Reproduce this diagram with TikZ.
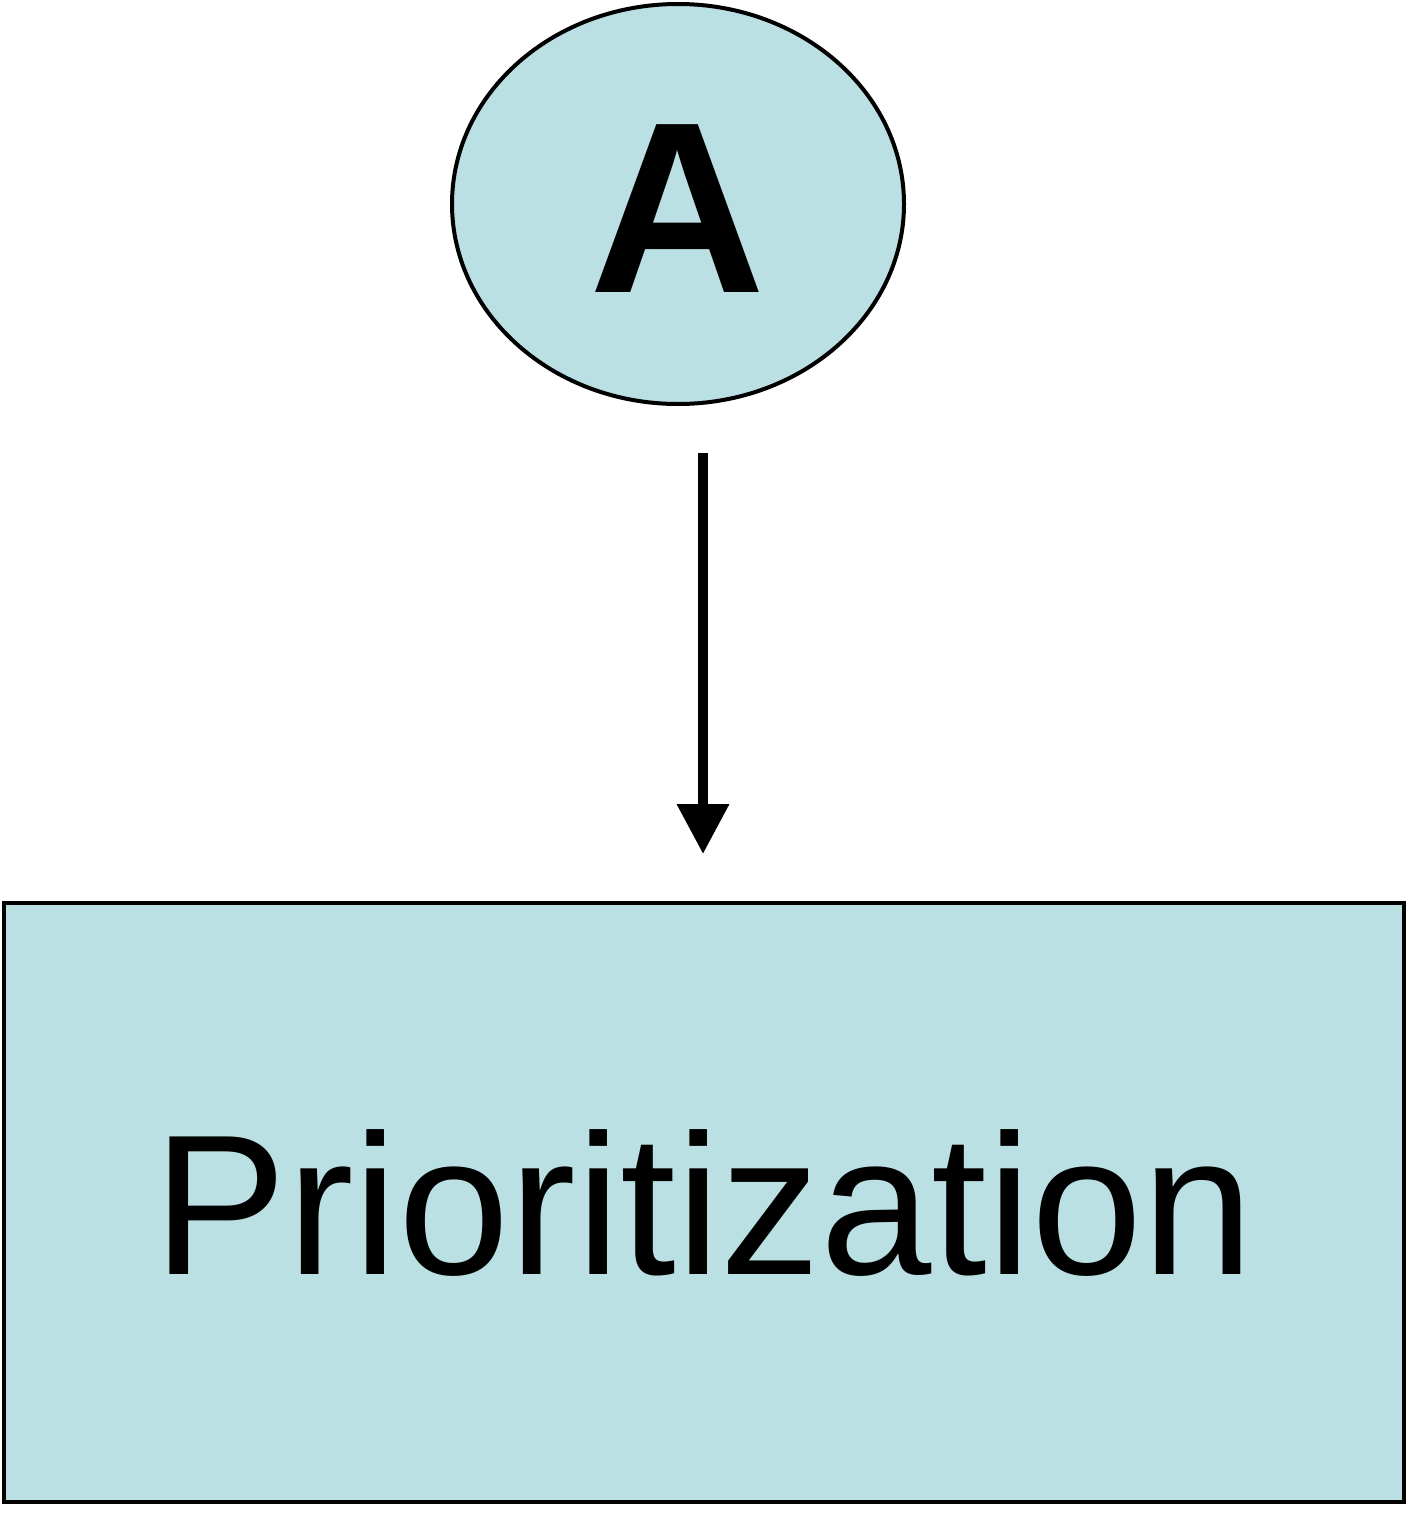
\documentclass[tikz,border=0pt]{standalone}
\usepackage{fontspec}
\setmainfont{Liberation Sans}
\usetikzlibrary{arrows.meta,shapes.geometric}
\definecolor{boxfill}{HTML}{BBE0E3}
\tikzset{
  shapeline/.style={draw=black, line width=4pt, fill=boxfill, inner sep=0pt},
  flowarrow/.style={line width=10pt, -{Triangle[width=50pt,length=50pt]}}
}
\begin{document}
\begin{tikzpicture}[x=1pt,y=-1pt]
  \useasboundingbox (0,0) rectangle (1415,1515);
  % top label ellipse
  \node[shapeline, ellipse, minimum width=452pt, minimum height=400pt] (a) at (678,204)
    {};
  \node (alabel) at (678,209) {\fontsize{244}{290}\selectfont\bfseries A};
  % process box
  \node[shapeline, rectangle, minimum width=1400pt, minimum height=599pt] (b) at (704,1202.5)
    {\fontsize{200}{240}\selectfont Prioritization};
  % connector between them
  \draw[flowarrow, shorten <=47pt, shorten >=47pt]
    ([xshift=-1pt]a.south -| b.north) -- ([xshift=-1pt]b.north);
\end{tikzpicture}
\end{document}
